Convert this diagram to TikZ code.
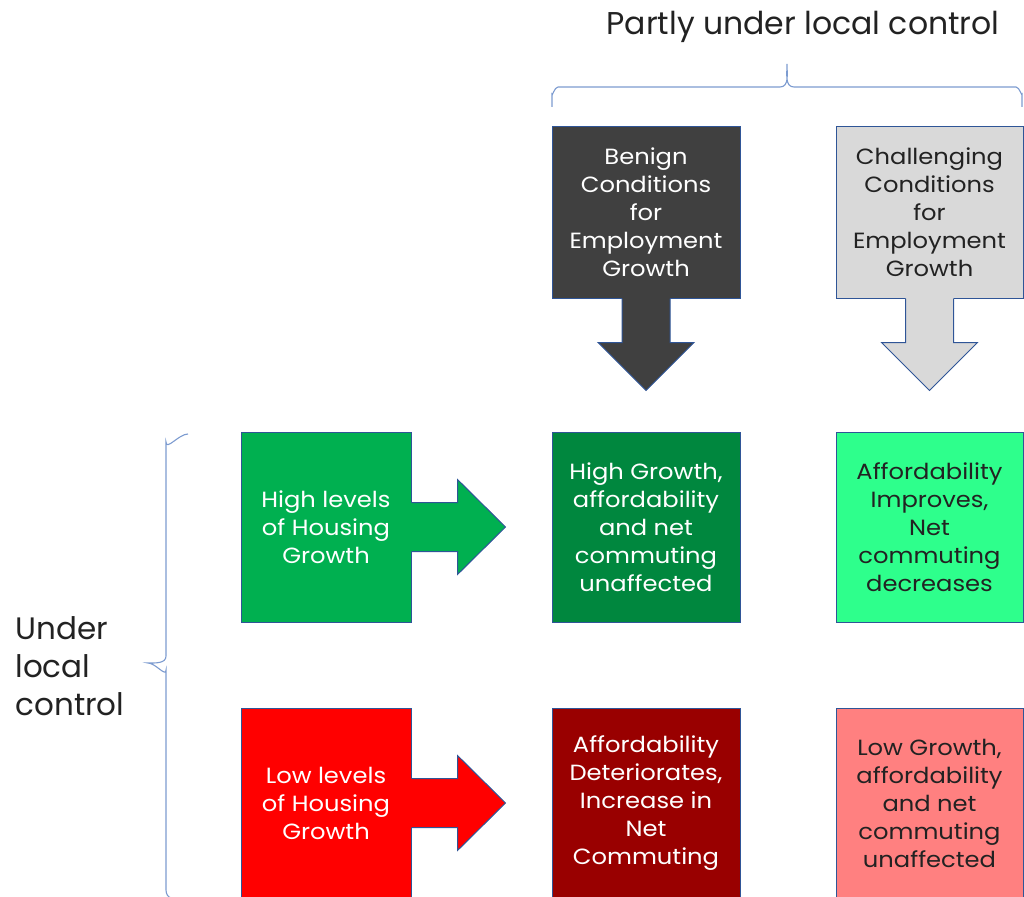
\documentclass[tikz,border=0pt]{standalone}
\usepackage{fontspec}
\setmainfont{Poppins}
\newfontfamily\boxfont{Poppins}[FakeStretch=1.1]
\usetikzlibrary{calc}
\definecolor{bordc}{HTML}{2F5597}
\definecolor{bracec}{HTML}{7C9BD0}
\definecolor{benignc}{HTML}{404040}
\definecolor{challc}{HTML}{D9D9D9}
\definecolor{greenA}{HTML}{00B050}
\definecolor{greenB}{HTML}{00873E}
\definecolor{greenC}{HTML}{2EFF8C}
\definecolor{redA}{HTML}{FF0000}
\definecolor{redB}{HTML}{990000}
\definecolor{redC}{HTML}{FF8080}
\definecolor{darktext}{HTML}{222222}
\tikzset{
  cell/.style={draw=bordc, line width=1pt, minimum width=188pt, minimum height=190pt,
    inner sep=0pt, align=center, font=\boxfont\fontsize{22}{28}\selectfont, text=darktext},
  cellw/.style={cell, text=white},
  outl/.style={draw=bordc, line width=1pt, line join=miter},
  bracestyle/.style={draw=bracec, line width=1.1pt},
}
\begin{document}
\begin{tikzpicture}[x=1pt,y=-1pt]
\useasboundingbox (0,0) rectangle (1024,896);
\clip (0,0) rectangle (1024,896);

% title and top brace
\node[font=\fontsize{31.5}{38}\selectfont, text=darktext] (title) at (803,27) {Partly under local control};
\draw[bracestyle] (552,107) -- (552,94) to[out=-90,in=180] (558,87) -- (780,87)
  to[out=0,in=-90] (787,64) to[out=-90,in=180] (794,87) -- (1016,87)
  to[out=0,in=-90] (1022,94) -- (1022,107);

% left label and brace
\node[anchor=west, align=left, font=\fontsize{31}{38}\selectfont, text=darktext] (under) at (12,666) {Under\\local\\control};
\draw[bracestyle] (188,434) to[out=180,in=-90] (166,442) -- (166,656)
  to[out=-90,in=0] (148,663) to[out=0,in=-90] (166,670) -- (166,890)
  to[out=-90,in=180] (172,898);

% top row
\node[cellw, fill=benignc, minimum height=171pt] (benign) at (646,212.5) {Benign\\Conditions\\for\\Employment\\Growth};
\node[cell, fill=challc, minimum width=187pt, minimum height=171pt] (chall) at (929.5,212.5) {Challenging\\Conditions\\for\\Employment\\Growth};

% down arrows
\foreach \n/\c in {benign/benignc, chall/challc}{
  \fill[\c] ($(\n.south)+(-24,-3)$) -- ($(\n.south)+(-24,44)$) -- ($(\n.south)+(-48,44)$)
    -- ($(\n.south)+(0,92)$) -- ($(\n.south)+(48,44)$) -- ($(\n.south)+(24,44)$)
    -- ($(\n.south)+(24,-3)$) -- cycle;
  \draw[outl] ($(\n.south)+(-24,0)$) -- ($(\n.south)+(-24,44)$) -- ($(\n.south)+(-48,44)$)
    -- ($(\n.south)+(0,92)$) -- ($(\n.south)+(48,44)$) -- ($(\n.south)+(24,44)$)
    -- ($(\n.south)+(24,0)$);
}

% middle row
\node[cellw, fill=greenA, minimum width=170pt] (highL) at (326,527) {High levels\\of Housing\\Growth};
\node[cellw, fill=greenB] (highM) at (646,527) {High Growth,\\affordability\\and net\\commuting\\unaffected};
\node[cell, fill=greenC, minimum width=187pt] (highR) at (929.5,527) {Affordability\\Improves,\\Net\\commuting\\decreases};

% bottom row
\node[cellw, fill=redA, minimum width=170pt] (lowL) at (326,803) {Low levels\\of Housing\\Growth};
\node[cellw, fill=redB] (lowM) at (646,803) {Affordability\\Deteriorates,\\Increase in\\Net\\Commuting};
\node[cell, fill=redC, minimum width=187pt] (lowR) at (929.5,803) {Low Growth,\\affordability\\and net\\commuting\\unaffected};

% right arrows
\foreach \n/\c in {highL/greenA, lowL/redA}{
  \fill[\c] ($(\n.east)+(-3,-24.5)$) -- ($(\n.east)+(46,-24.5)$) -- ($(\n.east)+(46,-47.5)$)
    -- ($(\n.east)+(94,0)$) -- ($(\n.east)+(46,47.5)$) -- ($(\n.east)+(46,24.5)$)
    -- ($(\n.east)+(-3,24.5)$) -- cycle;
  \draw[outl] ($(\n.east)+(0,-24.5)$) -- ($(\n.east)+(46,-24.5)$) -- ($(\n.east)+(46,-47.5)$)
    -- ($(\n.east)+(94,0)$) -- ($(\n.east)+(46,47.5)$) -- ($(\n.east)+(46,24.5)$)
    -- ($(\n.east)+(0,24.5)$);
}
\end{tikzpicture}
\end{document}
